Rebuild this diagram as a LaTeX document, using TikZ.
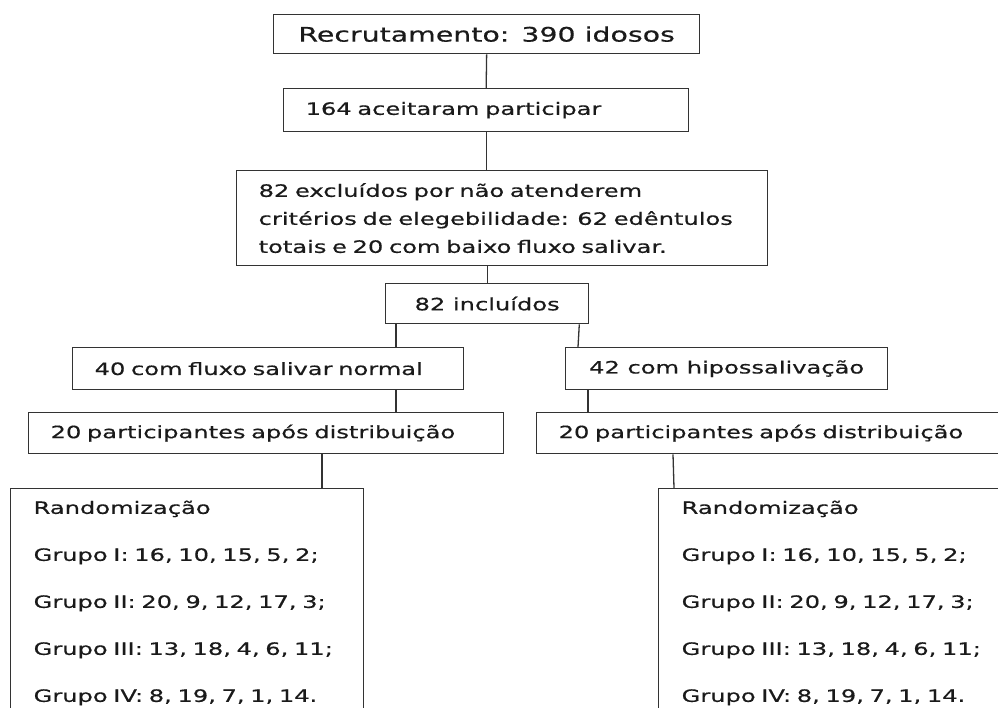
\documentclass[tikz,border=0pt]{standalone}
\usepackage{fontspec}
\setmainfont{DejaVu Sans}[FakeStretch=1.42,FakeBold=0.5]
\usepackage{xcolor}
\usepackage{tikz}
\definecolor{edge}{HTML}{333333}
\definecolor{ink}{HTML}{1A1A1A}
\newcommand{\grupos}{Randomização\\
  Grupo I: 16, 10, 15, 5, 2;\\
  Grupo II: 20, 9, 12, 17, 3;\\
  Grupo III: 13, 18, 4, 6, 11;\\
  Grupo IV: 8, 19, 7, 1, 14.}

\begin{document}
\begin{tikzpicture}[x=1pt,y=-1pt,
  box/.style={draw=edge,line width=1.3pt,anchor=north west,text=ink,
    font=\fontsize{17}{28}\selectfont,inner xsep=22pt,inner ysep=0pt},
  lbox/.style={box,align=left},
  link/.style={draw=edge,line width=1.3pt}]
\useasboundingbox (0,0) rectangle (998,708);
\clip (0,0) rectangle (998,708);
% top of the flow
\node[box,minimum width=426pt,minimum height=39pt,font=\fontsize{20}{24}\selectfont] (rec) at (273,14) {Recrutamento: 390 idosos};
\node[lbox,text width=361pt,minimum height=43pt] (acc) at (283,88) {164 aceitaram participar};
\node[lbox,text width=487pt,minimum height=95pt] (exc) at (236,170)
  {82 excluídos por não atenderem\\ critérios de elegebilidade: 62 edêntulos\\ totais e 20 com baixo fluxo salivar.};
\node[box,minimum width=203pt,minimum height=40pt] (inc) at (385,283) {82 incluídos};
% two branches
\node[lbox,text width=347pt,minimum height=42pt] (nor) at (72,347) {40 com fluxo salivar normal};
\node[box,minimum width=322pt,minimum height=42pt] (hip) at (565,347) {42 com hipossalivação};
\node[lbox,text width=431pt,minimum height=41pt] (pl) at (28,412) {20 participantes após distribuição};
\node[lbox,text width=430pt,minimum height=41pt] (pr) at (536,412) {20 participantes após distribuição};
\node[lbox,text width=307pt,inner xsep=23pt,inner ysep=12pt,font=\fontsize{17}{47}\selectfont] (rl) at (10,488) {\grupos};
\node[lbox,text width=307pt,inner xsep=23pt,inner ysep=12pt,font=\fontsize{17}{47}\selectfont] (rr) at (658,488) {\grupos};

\path[link] (rec.south) -- (acc.north);
\path[link] (acc.south) -- (acc.south |- exc.north);
\path[link] (inc.north |- exc.south) -- (inc.north);
\path[link] ([xshift=11pt]inc.south west) -- ([xshift=324pt]nor.north west);
\path[link] ([xshift=-10pt]inc.south east) -- ([xshift=13pt]hip.north west);
\path[link] ([xshift=324pt]nor.south west) -- ([xshift=368pt]pl.north west);
\path[link] ([xshift=23pt]hip.south west) -- ([xshift=52pt]pr.north west);
\path[link] ([xshift=294pt]pl.south west) -- ([xshift=312pt]rl.north west);
\path[link] ([xshift=137pt]pr.south west) -- ([xshift=16pt]rr.north west);
\end{tikzpicture}
\end{document}
